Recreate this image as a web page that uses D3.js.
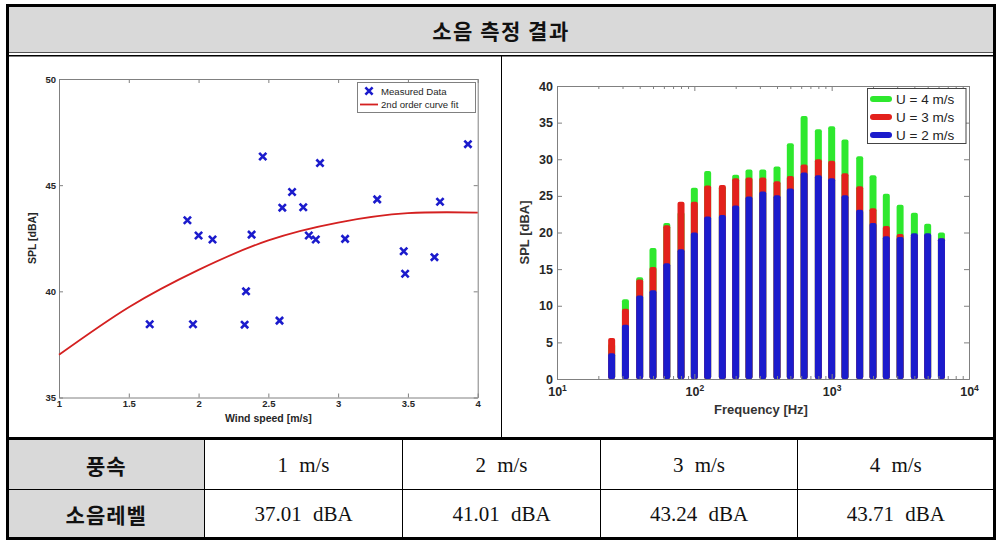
<!DOCTYPE html>
<html><head><meta charset="utf-8">
<script src="https://cdn.jsdelivr.net/npm/d3@7"></script>
<style>
body{margin:0;background:#fff;}
svg{display:block;}
</style></head><body>
<svg id="c" width="999" height="545"></svg>
<script>
// ---------- data ----------
const titleText = "소음 측정 결과";

// left: measured SPL vs wind speed
const windX = [1.65,1.92,1.96,2.00,2.10,2.34,2.33,2.38,2.46,2.58,2.60,2.67,2.75,2.79,2.84,2.87,3.05,3.28,3.47,3.48,3.69,3.73,3.93];
const windY = [38.45,43.35,38.45,42.63,42.44,40.0,38.43,42.67,46.35,38.62,43.94,44.68,43.96,42.63,42.44,46.04,42.47,44.33,41.89,40.83,41.61,44.22,46.93];
const fitX = [1,1.5,2,2.5,3,3.5,4];
const fitY = [37.01,39.25,41.01,42.4,43.24,43.68,43.71];
const leftXTicks = [1,1.5,2,2.5,3,3.5,4];
const leftYTicks = [35,40,45,50];
const leftLegend = ["Measured Data","2nd order curve fit"];

// right: 1/3 octave spectra
const freqs = [25,31.5,40,50,63,80,100,125,160,200,250,315,400,500,630,800,1000,1250,1600,2000,2500,3150,4000,5000,6300];
const splU4 = [4.8,10.9,13.9,17.9,21.3,22.8,26.1,28.4,26.3,27.9,28.6,28.6,29.0,32.2,35.9,34.1,34.5,32.7,30.4,27.8,25.3,23.8,22.7,21.2,20.0];
const splU3 = [5.6,9.6,13.6,15.3,21.0,24.2,24.2,26.4,26.5,27.4,27.5,27.5,27.0,27.7,29.3,30.0,29.8,28.1,26.3,23.3,20.9,19.8,19.6,19.8,19.2];
const splU2 = [3.5,7.4,11.4,12.1,15.8,17.7,20.0,22.2,22.4,23.7,24.9,25.6,25.1,26.0,28.2,27.8,27.4,25.1,23.1,21.3,19.5,19.4,19.9,19.9,19.2];
const rightYTicks = [0,5,10,15,20,25,30,35,40];
const rightXTicks = [10,100,1000,10000];
const rightLegend = ["U = 4 m/s","U = 3 m/s","U = 2 m/s"];

// table
const rowHeaders = ["풍속","소음레벨"];
const speedLabels = ["1 m/s","2 m/s","3 m/s","4 m/s"];
const levelLabels = ["37.01 dBA","41.01 dBA","43.24 dBA","43.71 dBA"];

// ---------- drawing ----------
const svg = d3.select("#c");
const KR = "'Noto Sans CJK KR', sans-serif";
const SERIF = "'Liberation Serif', 'DejaVu Serif', serif";
const SANS = "'Liberation Sans', Arial, sans-serif";
const GREEN = "#2ee82e", RED = "#e3211c", BLUE = "#1b1bcc";
const AX = "#808080", TXT = "#262626";

// header band
svg.append("rect").attr("x",8).attr("y",6).attr("width",986).attr("height",46).attr("fill","#d9d9d9");
svg.append("text").attr("x",501).attr("y",30).attr("text-anchor","middle").attr("dominant-baseline","central")
  .attr("font-family",KR).attr("font-weight",700).attr("font-size",21).attr("letter-spacing",1.5).attr("fill","#111")
  .text(titleText);
svg.append("line").attr("x1",8).attr("x2",994).attr("y1",52.5).attr("y2",52.5).attr("stroke","#555").attr("stroke-width",1);
svg.append("line").attr("x1",8).attr("x2",994).attr("y1",55.8).attr("y2",55.8).attr("stroke","#000").attr("stroke-width",1.6);
svg.append("line").attr("x1",501.5).attr("x2",501.5).attr("y1",56).attr("y2",438).attr("stroke","#000").attr("stroke-width",1);

// ----- left chart -----
(function(){
  const g = svg.append("g");
  const x = d3.scaleLinear().domain([1,4]).range([59,477.7]);
  const y = d3.scaleLinear().domain([35,50]).range([397.5,79]);
  const styleAxis = sel => {
    sel.select(".domain").attr("stroke",AX);
    sel.selectAll(".tick line").attr("stroke",AX);
    sel.selectAll("text").attr("font-family",SANS).attr("font-weight",700).attr("font-size",9.5).attr("fill",TXT);
  };
  g.append("g").attr("transform",`translate(0,${y(35)})`)
    .call(d3.axisBottom(x).tickValues(leftXTicks).tickSize(-4).tickSizeOuter(0).tickPadding(3).tickFormat(d=>String(d)))
    .call(styleAxis);
  g.append("g").attr("transform",`translate(0,${y(50)})`)
    .call(d3.axisTop(x).tickValues(leftXTicks).tickSize(-4).tickSizeOuter(0).tickFormat(""))
    .call(styleAxis);
  g.append("g").attr("transform",`translate(${x(1)},0)`)
    .call(d3.axisLeft(y).tickValues(leftYTicks).tickSize(-4).tickSizeOuter(0).tickPadding(3).tickFormat(d=>String(d)))
    .call(styleAxis);
  g.append("g").attr("transform",`translate(${x(4)},0)`)
    .call(d3.axisRight(y).tickValues(leftYTicks).tickSize(-4).tickSizeOuter(0).tickFormat(""))
    .call(styleAxis);

  // fit curve
  const line = d3.line().x(d=>x(d[0])).y(d=>y(d[1])).curve(d3.curveNatural);
  g.append("path").datum(fitX.map((v,i)=>[v,fitY[i]])).attr("d",line)
    .attr("fill","none").attr("stroke","#d42020").attr("stroke-width",1.8);

  // markers
  const s = 3.6;
  const mk = g.append("g").attr("stroke",BLUE).attr("stroke-width",2.6).attr("stroke-linecap","butt");
  windX.forEach((v,i)=>{
    const cx = x(v), cy = y(windY[i]);
    mk.append("path").attr("d",`M${cx-s},${cy-s}L${cx+s},${cy+s}M${cx-s},${cy+s}L${cx+s},${cy-s}`);
  });

  // labels
  g.append("text").attr("x",(x(1)+x(4))/2).attr("y",422).attr("text-anchor","middle")
    .attr("font-family",SANS).attr("font-weight",700).attr("font-size",10.5).attr("fill",TXT).text("Wind speed [m/s]");
  g.append("text").attr("transform",`translate(36,${(y(35)+y(50))/2}) rotate(-90)`).attr("text-anchor","middle")
    .attr("font-family",SANS).attr("font-weight",700).attr("font-size",10.5).attr("fill",TXT).text("SPL [dBA]");

  // legend
  const lg = g.append("g");
  lg.append("rect").attr("x",357.5).attr("y",82.5).attr("width",118).attr("height",30)
    .attr("fill","#fff").attr("stroke",AX).attr("stroke-width",1);
  const mx = 369, my = 91;
  lg.append("path").attr("d",`M${mx-s},${my-s}L${mx+s},${my+s}M${mx-s},${my+s}L${mx+s},${my-s}`)
    .attr("stroke",BLUE).attr("stroke-width",2.6);
  lg.append("line").attr("x1",360).attr("x2",378).attr("y1",104.5).attr("y2",104.5).attr("stroke","#d42020").attr("stroke-width",1.8);
  lg.selectAll("text.lt").data(leftLegend).join("text").attr("class","lt")
    .attr("x",381).attr("y",(d,i)=>91+i*13.5).attr("dominant-baseline","central")
    .attr("font-family",SANS).attr("font-size",9.6).attr("fill",TXT).text(d=>d);
})();

// ----- right chart -----
(function(){
  const g = svg.append("g");
  const x = d3.scaleLog().domain([10,10000]).range([557,969]);
  const y = d3.scaleLinear().domain([0,40]).range([379,86]);
  const minor = [];
  [10,100,1000].forEach(dec=>{ for(let k=2;k<=9;k++) minor.push(dec*k); });

  // bars (overlaid: green, red, blue)
  const bw = 7;
  const series = [[splU4,GREEN],[splU3,RED],[splU2,BLUE]];
  series.forEach(([vals,col])=>{
    g.append("g").selectAll("rect").data(freqs).join("rect")
      .attr("x",d=>x(d)-bw/2).attr("width",bw)
      .attr("y",(d,i)=>y(vals[i])).attr("height",(d,i)=>y(0)-y(vals[i]))
      .attr("rx",2).attr("fill",col);
  });

  const styleAxis = sel => {
    sel.select(".domain").attr("stroke",AX);
    sel.selectAll(".tick line").attr("stroke",AX);
    sel.selectAll("text").attr("font-family",SANS).attr("font-weight",700).attr("font-size",12.5).attr("fill",TXT);
  };
  // bottom major with labels
  g.append("g").attr("transform",`translate(0,${y(0)})`)
    .call(d3.axisBottom(x).tickValues(rightXTicks).tickSize(-5).tickSizeOuter(0).tickPadding(8).tickFormat(""))
    .call(styleAxis)
    .selectAll(".tick text").each(function(d){
      const t = d3.select(this);
      t.append("tspan").text("10");
      t.append("tspan").attr("dy","-0.55em").attr("font-size",8.5).text(Math.round(Math.log10(d)));
    });
  g.append("g").attr("transform",`translate(0,${y(0)})`)
    .call(d3.axisBottom(x).tickValues(minor).tickSize(-3).tickSizeOuter(0).tickFormat(""))
    .call(styleAxis);
  g.append("g").attr("transform",`translate(0,${y(40)})`)
    .call(d3.axisTop(x).tickValues(rightXTicks).tickSize(-5).tickSizeOuter(0).tickFormat(""))
    .call(styleAxis);
  g.append("g").attr("transform",`translate(0,${y(40)})`)
    .call(d3.axisTop(x).tickValues(minor).tickSize(-3).tickSizeOuter(0).tickFormat(""))
    .call(styleAxis);
  g.append("g").attr("transform",`translate(${x(10)},0)`)
    .call(d3.axisLeft(y).tickValues(rightYTicks).tickSize(-5).tickSizeOuter(0).tickPadding(4).tickFormat(d=>String(d)))
    .call(styleAxis);
  g.append("g").attr("transform",`translate(${x(10000)},0)`)
    .call(d3.axisRight(y).tickValues(rightYTicks).tickSize(-5).tickSizeOuter(0).tickFormat(""))
    .call(styleAxis);

  g.append("text").attr("x",761).attr("y",414).attr("text-anchor","middle")
    .attr("font-family",SANS).attr("font-weight",700).attr("font-size",13).attr("fill","#333").text("Frequency [Hz]");
  g.append("text").attr("transform",`translate(529,${(y(0)+y(40))/2}) rotate(-90)`).attr("text-anchor","middle")
    .attr("font-family",SANS).attr("font-weight",700).attr("font-size",13).attr("fill","#333").text("SPL [dBA]");

  // legend
  const lg = g.append("g");
  lg.append("rect").attr("x",867.5).attr("y",88.5).attr("width",98.5).attr("height",55)
    .attr("fill","#fff").attr("stroke","#444").attr("stroke-width",1);
  const cols = [GREEN,RED,BLUE];
  rightLegend.forEach((t,i)=>{
    const yy = 99+i*18;
    lg.append("line").attr("x1",873).attr("x2",889).attr("y1",yy).attr("y2",yy)
      .attr("stroke",cols[i]).attr("stroke-width",6).attr("stroke-linecap","round");
    lg.append("text").attr("x",896).attr("y",yy).attr("dominant-baseline","central")
      .attr("font-family",SANS).attr("font-size",13.5).attr("fill","#222").text(t);
  });
})();

// ----- table -----
const colX = [8,204.5,402.5,600.5,797.5,994];
svg.append("rect").attr("x",8).attr("y",440).attr("width",196.5).attr("height",98).attr("fill","#d9d9d9");
svg.append("line").attr("x1",8).attr("x2",994).attr("y1",438.5).attr("y2",438.5).attr("stroke","#000").attr("stroke-width",3);
svg.append("line").attr("x1",8).attr("x2",994).attr("y1",489.5).attr("y2",489.5).attr("stroke","#000").attr("stroke-width",1);
colX.slice(1,5).forEach(cx=>{
  svg.append("line").attr("x1",cx).attr("x2",cx).attr("y1",440).attr("y2",537).attr("stroke","#000").attr("stroke-width",1);
});
const rowY = [464.5,513.5];
rowHeaders.forEach((t,i)=>{
  svg.append("text").attr("x",(colX[0]+colX[1])/2).attr("y",rowY[i]).attr("text-anchor","middle").attr("dominant-baseline","central")
    .attr("font-family",KR).attr("font-weight",700).attr("font-size",21).attr("letter-spacing",1).attr("fill","#111").text(t);
});
[speedLabels,levelLabels].forEach((row,ri)=>{
  row.forEach((t,ci)=>{
    svg.append("text").attr("x",(colX[ci+1]+colX[ci+2])/2).attr("y",rowY[ri]).attr("text-anchor","middle").attr("dominant-baseline","central")
      .attr("font-family",SERIF).attr("font-size",21).attr("word-spacing",6).attr("fill","#111").text(t);
  });
});

// outer frame
svg.append("rect").attr("x",7.5).attr("y",5.5).attr("width",987).attr("height",533)
  .attr("fill","none").attr("stroke","#000").attr("stroke-width",3);
</script>
</body></html>
